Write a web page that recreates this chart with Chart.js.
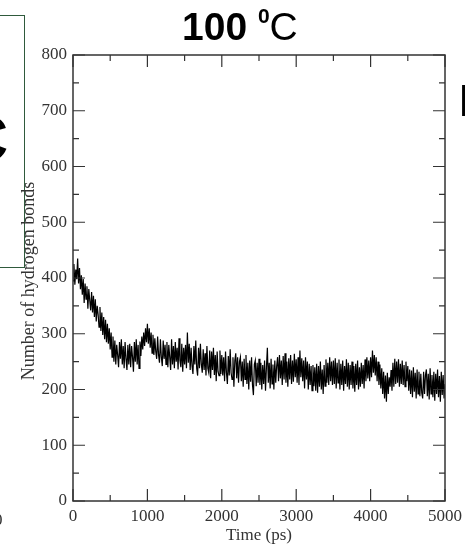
<!DOCTYPE html>
<html>
<head>
<meta charset="utf-8">
<script src="https://cdn.jsdelivr.net/npm/chart.js@4.4.1/dist/chart.umd.min.js"></script>
<style>
  body { margin: 0; background: #fff; }
  #wrap { position: relative; width: 465px; height: 544px; overflow: hidden; }
  #chart { position: absolute; left: 0; top: 0; }
  .txt { position: absolute; white-space: nowrap; }
</style>
</head>
<body>
<div id="wrap">
  <canvas id="chart" width="465" height="544"></canvas>

  <div class="txt" style="left:182px; top:2px; font-family:'Liberation Sans', Arial, sans-serif; font-size:39px; line-height:50px; color:#000;">
    <b>100</b> <b style="font-size:21px; position:relative; top:-17px;">0</b><span>C</span>
  </div>

  <div class="txt" style="left:-60px; top:15px; width:83px; height:251px; border:1.5px solid #2f5a3c;"></div>
  <div class="txt" style="left:-38px; top:104px; font-family:'Liberation Sans', Arial, sans-serif; font-weight:bold; font-size:64px; line-height:70px;">C</div>
  <div class="txt" style="left:458px; top:76px; font-family:'Liberation Sans', Arial, sans-serif; font-size:44px; line-height:50px;">I</div>
  <div class="txt" style="left:-6px; top:510px; font-family:'Liberation Serif', serif; font-size:17px; color:#333;">0</div>

  <div class="txt" style="left:28px; top:281px; transform:translate(-50%,-50%) rotate(-90deg); font-family:'Liberation Serif', serif; font-size:18px; color:#333;">Number of hydrogen bonds</div>
  <div class="txt" style="left:259px; top:535px; transform:translate(-50%,-50%); font-family:'Liberation Serif', serif; font-size:17px; color:#333;">Time (ps)</div>
</div>

<script>
// hydrogen bond count, sampled every 12.5 ps from 0 to 5000 ps
const timeStep = 12.5;
const hbonds = [
  395, 425, 388, 415, 398, 435, 390, 418, 380, 405, 370, 398, 355, 390, 362, 385, 345, 380, 360, 342,
  375, 338, 368, 330, 362, 322, 350, 335, 312, 348, 305, 338, 298, 330, 290, 325, 285, 318, 282, 310,
  272, 302, 258, 295, 250, 288, 245, 280, 262, 240, 285, 255, 290, 245, 278, 238, 285, 255, 235, 280,
  245, 282, 240, 278, 258, 232, 285, 250, 290, 245, 280, 238, 286, 260, 295, 272, 302, 278, 310, 285,
  318, 282, 310, 275, 302, 265, 298, 262, 292, 268, 255, 295, 262, 248, 290, 258, 242, 288, 255, 280,
  245, 285, 240, 280, 258, 235, 290, 245, 278, 238, 285, 250, 275, 236, 292, 252, 240, 282, 232, 275,
  245, 280, 238, 302, 248, 282, 235, 275, 242, 228, 278, 245, 288, 238, 225, 275, 238, 282, 245, 230,
  272, 235, 265, 225, 278, 238, 230, 270, 220, 268, 235, 275, 226, 262, 215, 268, 232, 225, 270, 228,
  262, 225, 258, 215, 268, 230, 210, 260, 225, 272, 230, 218, 258, 205, 252, 265, 220, 258, 212, 250,
  258, 215, 250, 205, 255, 218, 262, 210, 248, 200, 252, 214, 258, 208, 190, 245, 252, 206, 248, 212,
  255, 208, 248, 200, 244, 210, 252, 198, 240, 275, 212, 248, 202, 255, 210, 245, 200, 252, 212, 242,
  258, 215, 262, 220, 252, 208, 260, 218, 265, 212, 250, 205, 256, 218, 262, 210, 252, 214, 264, 222,
  254, 212, 258, 208, 270, 222, 256, 215, 252, 202, 258, 218, 250, 200, 246, 208, 242, 198, 244, 206,
  240, 198, 246, 194, 242, 205, 250, 200, 236, 192, 244, 206, 254, 212, 248, 208, 258, 215, 250, 208,
  252, 210, 256, 202, 248, 212, 254, 200, 246, 208, 252, 198, 242, 210, 254, 205, 248, 200, 244, 208,
  250, 202, 242, 196, 246, 208, 252, 200, 240, 205, 248, 210, 244, 202, 254, 215, 258, 220, 252, 215,
  258, 222, 270, 230, 262, 225, 258, 215, 250, 208, 245, 202, 238, 192, 232, 184, 225, 178, 230, 192,
  222, 205, 235, 198, 248, 205, 255, 210, 250, 212, 254, 205, 246, 210, 252, 208, 244, 205, 250, 215,
  242, 198, 236, 192, 234, 186, 240, 196, 230, 184, 236, 192, 232, 188, 228, 194, 184, 232, 192, 226,
  236, 188, 228, 182, 238, 192, 226, 186, 232, 180, 228, 192, 236, 186, 224, 178, 232, 190, 226, 184,
  210
];
const xTicks = [0, 1000, 2000, 3000, 4000, 5000];
const yTicks = [0, 100, 200, 300, 400, 500, 600, 700, 800];

const axisColor = '#333';

// frame + inward tick marks on all four sides
const framePlugin = {
  id: 'frame',
  afterDraw: (chart) => {
    const { ctx, chartArea: a, scales } = chart;
    const xs = scales.x, ys = scales.y;
    ctx.save();
    ctx.strokeStyle = axisColor;
    ctx.lineWidth = 1.5;
    ctx.strokeRect(a.left, a.top, a.right - a.left, a.bottom - a.top);
    ctx.lineWidth = 1.2;
    ctx.beginPath();
    for (let v = 0; v <= 5000; v += 500) {
      const len = v % 1000 === 0 ? 12 : 6;
      const px = xs.getPixelForValue(v);
      ctx.moveTo(px, a.bottom); ctx.lineTo(px, a.bottom - len);
      ctx.moveTo(px, a.top); ctx.lineTo(px, a.top + len);
    }
    for (let v = 0; v <= 800; v += 50) {
      const len = v % 100 === 0 ? 12 : 6;
      const py = ys.getPixelForValue(v);
      ctx.moveTo(a.left, py); ctx.lineTo(a.left + len, py);
      ctx.moveTo(a.right, py); ctx.lineTo(a.right - len, py);
    }
    ctx.stroke();
    ctx.restore();
  }
};

new Chart(document.getElementById('chart'), {
  type: 'line',
  data: {
    datasets: [{
      data: hbonds.map((v, i) => ({ x: i * timeStep, y: v })),
      borderColor: '#000',
      borderWidth: 1.2,
      pointRadius: 0,
      tension: 0,
      fill: false
    }]
  },
  options: {
    responsive: false,
    animation: false,
    layout: { padding: { left: 0, top: 55, right: 20, bottom: 0 } },
    plugins: { legend: { display: false }, tooltip: { enabled: false } },
    scales: {
      x: {
        type: 'linear',
        min: 0, max: 5000,
        afterFit: (s) => { s.height = 43; s.paddingLeft = 0; s.paddingRight = 0; },
        afterBuildTicks: (s) => { s.ticks = xTicks.map(v => ({ value: v })); },
        grid: { display: false, drawTicks: false },
        border: { display: false },
        ticks: {
          color: axisColor, padding: 5, maxRotation: 0,
          callback: (v) => String(v),
          font: { family: "'Liberation Serif', serif", size: 17 }
        }
      },
      y: {
        min: 0, max: 800,
        afterFit: (s) => { s.width = 73; s.paddingTop = 0; s.paddingBottom = 0; },
        afterBuildTicks: (s) => { s.ticks = yTicks.map(v => ({ value: v })); },
        grid: { display: false, drawTicks: false },
        border: { display: false },
        ticks: {
          color: axisColor, padding: 6,
          callback: (v) => String(v),
          font: { family: "'Liberation Serif', serif", size: 17 }
        }
      }
    }
  },
  plugins: [framePlugin]
});
</script>
</body>
</html>
